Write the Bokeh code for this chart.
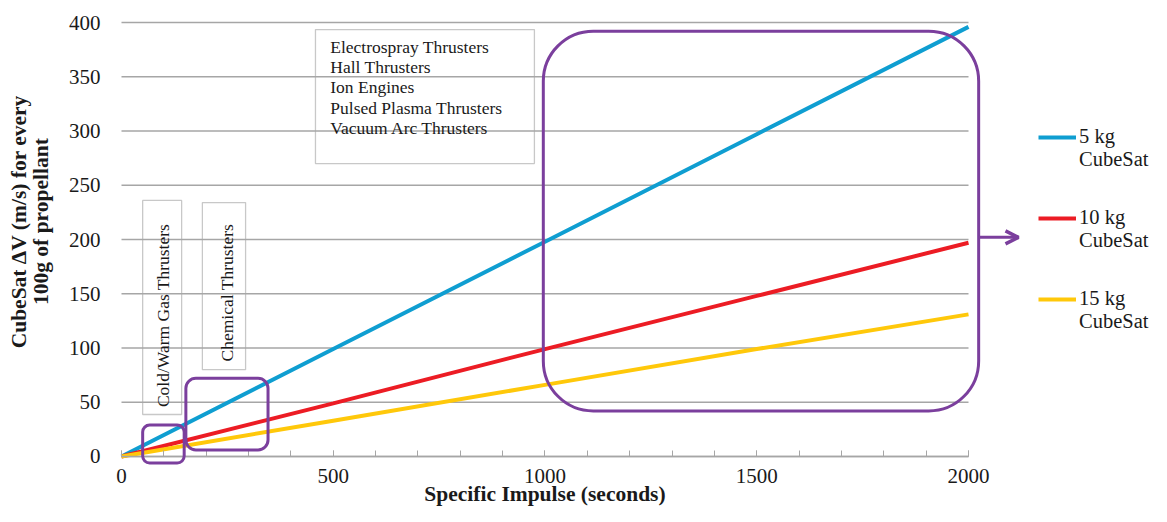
import math
from bokeh.plotting import figure
from bokeh.models import (BoxAnnotation, Label, Legend, LegendItem, Arrow, OpenHead,
                          SingleIntervalTicker, ColumnDataSource)
from bokeh.embed import file_html
from bokeh.resources import INLINE

# ---- data ----
isp = [0, 500, 1000, 1500, 2000]
dv_5kg = [0, 99, 198, 297, 396]
dv_10kg = [0, 49, 99, 148, 197]
dv_15kg = [0, 33, 66, 99, 131]
series_labels = ["5 kg\nCubeSat", "10 kg\nCubeSat", "15 kg\nCubeSat"]
y_ticks = [0, 50, 100, 150, 200, 250, 300, 350, 400]
high_isp_types = ["Electrospray Thrusters", "Hall Thrusters", "Ion Engines",
                  "Pulsed Plasma Thrusters", "Vacuum Arc Thrusters"]
cold_gas_label = "Cold/Warm Gas Thrusters"
chemical_label = "Chemical Thrusters"
x_title = "Specific Impulse (seconds)"
y_title = "CubeSat \u0394V (m/s) for every\n100g of propellant"

FONT = "Liberation Serif"
TXT = "#1a1a1a"
GRID = "#a6a6a6"
PURPLE = "#7b3f9d"
BOXGRAY = "#c8c8c8"
colors = ["#0f9ed1", "#ec1c24", "#ffc80a"]

X_MAX = 2000
Y_MAX = 400
# the frame covers the whole canvas; axes are pinned at 0 so titles, legend and
# the arrow can be placed around the data area
X_VIEW = (-285.7, 2432.1)
Y_VIEW = (-46.1, 420.3)

p = figure(width=1151, height=506, x_range=X_VIEW, y_range=Y_VIEW,
           toolbar_location=None, output_backend="svg", min_border=0)
p.outline_line_color = None
p.background_fill_color = "white"
p.border_fill_color = "white"

# axes pinned at the data origin
p.xaxis.fixed_location = 0
p.xaxis.bounds = (0, X_MAX)
p.xaxis.ticker = SingleIntervalTicker(interval=500, num_minor_ticks=5)
p.xaxis.axis_line_color = GRID
p.xaxis.axis_line_width = 1.3
p.xaxis.major_tick_line_color = GRID
p.xaxis.minor_tick_line_color = GRID
p.xaxis.major_tick_in = 6
p.xaxis.major_tick_out = 0
p.xaxis.minor_tick_in = 6
p.xaxis.minor_tick_out = 0
p.xaxis.major_label_text_font = FONT
p.xaxis.major_label_text_font_size = "21px"
p.xaxis.major_label_text_color = TXT
p.xaxis.major_label_standoff = 13

p.yaxis.fixed_location = 0
p.yaxis.bounds = (0, Y_MAX)
p.yaxis.ticker = SingleIntervalTicker(interval=50, num_minor_ticks=0)
p.yaxis.axis_line_color = None
p.yaxis.major_tick_line_color = None
p.yaxis.minor_tick_line_color = None
p.yaxis.major_label_text_font = FONT
p.yaxis.major_label_text_font_size = "21px"
p.yaxis.major_label_text_color = TXT
p.yaxis.major_label_standoff = 15

p.xgrid.grid_line_color = None
p.ygrid.grid_line_color = None

# horizontal grid lines limited to the data extent
p.segment(x0=[0] * len(y_ticks), x1=[X_MAX] * len(y_ticks), y0=y_ticks, y1=y_ticks,
          line_color=GRID, line_width=1.3)

# axis titles
p.add_layout(Label(x=X_MAX / 2, y=-45.3, text=x_title, text_font=FONT, text_font_size="21.5px",
                   text_font_style="bold", text_color=TXT, text_align="center",
                   text_baseline="bottom"))
p.add_layout(Label(x=-216, y=216.5, text=y_title, angle=math.pi / 2, text_font=FONT,
                   text_font_size="21.5px", text_font_style="bold", text_color=TXT,
                   text_align="center", text_baseline="middle", text_line_height=0.9))

# gray text boxes (drawn above the grid)
for (l, r_, b, t) in [(458, 975, 270, 393.5), (50, 142, 38.7, 236), (191, 293, 80, 234)]:
    p.add_layout(BoxAnnotation(left=l, right=r_, bottom=b, top=t, fill_color="white",
                               fill_alpha=1, line_color=BOXGRAY, line_alpha=1, line_width=1.3,
                               level="underlay"))

p.add_layout(Label(x=493, y=387, text="\n".join(high_isp_types), text_font=FONT,
                   text_font_size="17.5px", text_color=TXT, text_align="left",
                   text_baseline="top", text_line_height=1.015))
p.add_layout(Label(x=97, y=130, text=cold_gas_label, angle=math.pi / 2, text_font=FONT,
                   text_font_size="17.5px", text_color=TXT, text_align="center",
                   text_baseline="middle"))
p.add_layout(Label(x=248, y=151, text=chemical_label, angle=math.pi / 2, text_font=FONT,
                   text_font_size="17.5px", text_color=TXT, text_align="center",
                   text_baseline="middle"))

# series
src = ColumnDataSource(dict(x=isp, a=dv_5kg, b=dv_10kg, c=dv_15kg))
renderers = []
for col, color in zip(["a", "b", "c"], colors):
    r = p.line("x", col, source=src, line_color=color, line_width=4)
    renderers.append(r)

# purple highlight boxes
for (l, r_, b, t, rad) in [(50, 148, -6, 29, 7), (152, 346, 6, 72, 10), (996, 2024, 42, 392, 50)]:
    p.add_layout(BoxAnnotation(left=l, right=r_, bottom=b, top=t, fill_alpha=0,
                               line_color=PURPLE, line_alpha=1, line_width=3, border_radius=rad))

p.add_layout(Arrow(end=OpenHead(line_color=PURPLE, line_width=3.5, size=13),
                   x_start=2024, y_start=202, x_end=2118, y_end=202,
                   line_color=PURPLE, line_width=3))

# legend: a leading blank line keeps the swatch level with the first text line
legend = Legend(items=[LegendItem(label="\n" + lab, renderers=[r])
                       for lab, r in zip(series_labels, renderers)],
                location=(1038, 173), padding=0, spacing=12, glyph_width=38, glyph_height=20,
                label_standoff=3, label_text_font=FONT, label_text_font_size="20.5px",
                label_text_line_height=1.3,
                label_text_color=TXT, border_line_color=None, background_fill_alpha=0,
                margin=0)
p.add_layout(legend)

open("out.html", "w").write(file_html(p, INLINE))
